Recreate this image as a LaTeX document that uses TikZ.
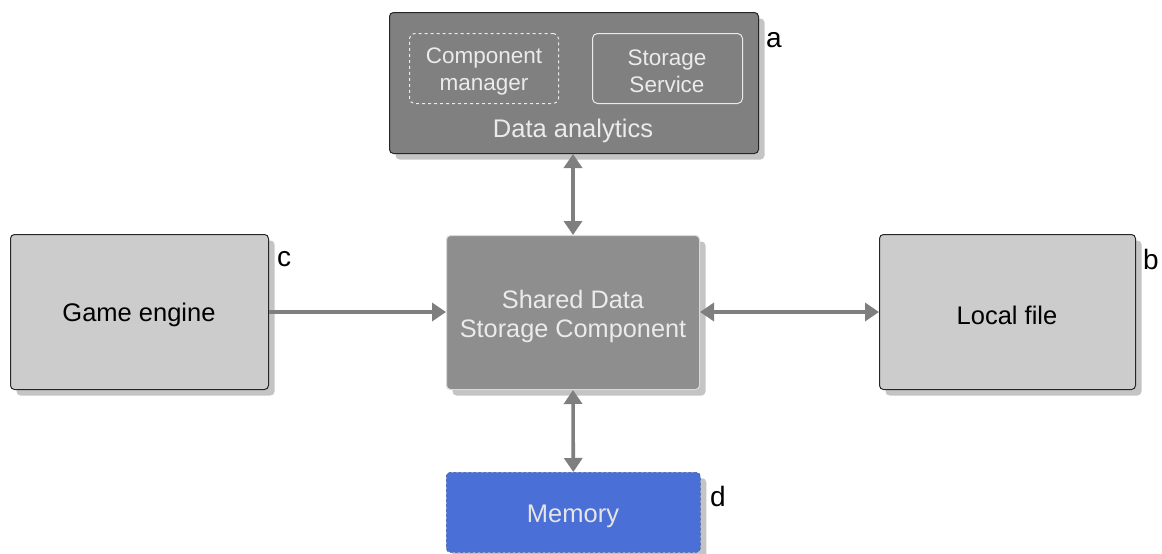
\documentclass[tikz,border=0pt]{standalone}
\usepackage{fontspec}
\setmainfont{Liberation Sans}
\usetikzlibrary{shadows,arrows.meta}
\definecolor{darkbox}{HTML}{808080}
\definecolor{midbox}{HTML}{8E8E8E}
\definecolor{lightbox}{HTML}{CCCCCC}
\definecolor{memblue}{HTML}{4A6FD6}
\definecolor{arrowgray}{HTML}{7F7F7F}
\definecolor{shadowgray}{HTML}{C4C4C4}
\tikzset{
  x=1pt, y=-1pt,
  boxshadow/.style={drop shadow={shadow xshift=6pt, shadow yshift=-6pt, fill=shadowgray, opacity=1}},
  outerbox/.style={draw=black!85, line width=1pt, rounded corners=4pt, boxshadow, inner sep=0pt},
  innerbox/.style={draw=white!92!black, line width=1pt, rounded corners=5pt, inner sep=0pt},
  innertext/.style={text=white!92!black, align=center, inner sep=0pt, font=\fontsize{22.5}{27}\selectfont},
  link/.style={draw=arrowgray, line width=3.6pt, -{Triangle[length=14pt,width=18pt]}},
  blink/.style={draw=arrowgray, line width=3.6pt, {Triangle[length=14pt,width=18pt]}-{Triangle[length=14pt,width=18pt]}},
  tag/.style={font=\fontsize{28}{30}\selectfont, text=black, inner sep=0pt}
}
\begin{document}
\begin{tikzpicture}
\useasboundingbox (0,0) rectangle (1162,554);
% Data analytics
\node[outerbox, fill=darkbox, minimum width=369pt, minimum height=141pt, anchor=north west] (da) at (389,12) {};
\node[innerbox, dashed, minimum width=149pt, minimum height=70pt, anchor=north west] (cm) at (409,33) {};
\node[innertext] (cmt) at (484,71) {Component\\manager};
\node[innerbox, minimum width=150pt, minimum height=70pt, anchor=north west] (ss) at (592,33) {};
\node[innertext] (sst) at (667,71) {Storage\\Service};
\node[text=white!92!black, font=\fontsize{25.5}{28}\selectfont, inner sep=0pt] (dat) at (573,131) {Data analytics};
\node[tag] (la) at (774,40) {a};
% Shared
\node[draw=white!85!black, line width=1pt, rounded corners=4pt, boxshadow, fill=midbox, minimum width=253pt, minimum height=154pt, anchor=north west, inner sep=0pt] (sd) at (446,235) {};
\node[text=white!92!black, align=center, font=\fontsize{25.3}{29}\selectfont, inner sep=0pt] (sdt) at (573,316) {Shared Data\\Storage Component};
% Game engine
\node[outerbox, fill=lightbox, minimum width=258pt, minimum height=155pt, anchor=north west] (ge) at (10,234) {};
\node[font=\fontsize{25.5}{28}\selectfont, inner sep=0pt] (get) at (139,315) {Game engine};
\node[tag] (lc) at (284,259) {c};
% Local file
\node[outerbox, fill=lightbox, minimum width=256pt, minimum height=155pt, anchor=north west] (lf) at (879,234) {};
\node[font=\fontsize{25.5}{28}\selectfont, inner sep=0pt] (lft) at (1007,315) {Local file};
\node[tag] (lb) at (1151,259) {b};
% Memory
\node[draw=memblue!80!black, densely dashed, line width=0.6pt, rounded corners=4pt, boxshadow, fill=memblue, minimum width=254pt, minimum height=80pt, anchor=north west, inner sep=0pt] (mem) at (446,472) {};
\node[text=white!90!black, font=\fontsize{25.5}{28}\selectfont, inner sep=0pt] (memt) at (573,516) {Memory};
\node[tag] (ld) at (718,496) {d};
% Connectors
\draw[blink] (da.south -| sd.north) -- (sd.north);
\draw[link] (ge.east) -- (ge.east -| sd.west);
\draw[blink] (sd.east |- lf.west) -- (lf.west);
\draw[blink] (sd.south) -- (mem.north);
\end{tikzpicture}
\end{document}
